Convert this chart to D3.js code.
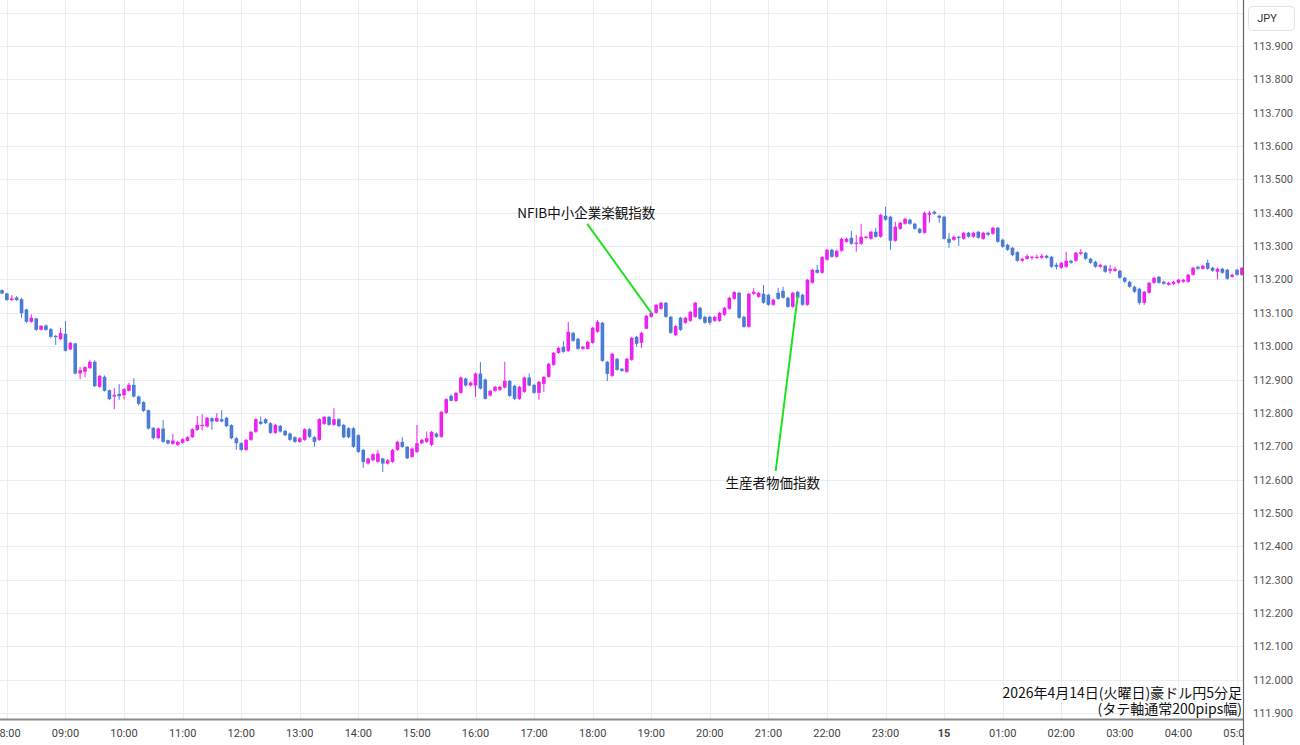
<!DOCTYPE html>
<html><head><meta charset="utf-8">
<script src="https://cdn.jsdelivr.net/npm/d3@7/dist/d3.min.js"></script>
<style>html,body{margin:0;padding:0;background:#fff;overflow:hidden}svg{display:block}</style>
</head><body><svg id="c" width="1300" height="745"></svg>
<script>
// ---- DATA ----
const startTime = "2026-04-14T07:55:00"; // first 5-minute candle
const intervalMin = 5;
const open = [113.168,113.158,113.138,113.146,113.141,113.110,113.073,113.083,113.049,113.062,113.051,113.031,113.021,113.037,112.990,113.008,112.918,112.923,112.934,112.953,112.878,112.908,112.868,112.849,112.857,112.853,112.866,112.884,112.849,112.832,112.808,112.755,112.724,112.753,112.718,112.707,112.704,112.710,112.716,112.727,112.749,112.761,112.759,112.784,112.774,112.781,112.785,112.763,112.724,112.709,112.689,112.719,112.743,112.774,112.781,112.769,112.740,112.761,112.746,112.738,112.727,112.713,112.719,112.751,112.727,112.719,112.767,112.788,112.764,112.781,112.764,112.754,112.754,112.733,112.689,112.648,112.658,112.653,112.663,112.648,112.653,112.689,112.713,112.698,112.668,112.683,112.709,112.713,112.704,112.738,112.728,112.800,112.851,112.836,112.860,112.903,112.882,112.882,112.918,112.900,112.852,112.866,112.869,112.876,112.896,112.881,112.842,112.863,112.906,112.884,112.860,112.887,112.908,112.944,112.980,112.998,112.986,113.040,113.022,112.992,112.992,113.010,113.043,113.070,112.953,112.911,112.962,112.932,112.923,112.959,113.028,113.010,113.052,113.088,113.100,113.112,113.130,113.088,113.033,113.085,113.070,113.076,113.088,113.115,113.088,113.088,113.076,113.076,113.094,113.112,113.142,113.160,113.088,113.058,113.157,113.148,113.157,113.154,113.124,113.160,113.166,113.145,113.118,113.163,113.154,113.124,113.190,113.229,113.220,113.259,113.289,113.268,113.286,113.313,113.325,113.307,113.307,113.325,113.322,113.343,113.328,113.391,113.388,113.316,113.352,113.367,113.379,113.367,113.352,113.340,113.394,113.403,113.391,113.388,113.322,113.319,113.328,113.322,113.340,113.328,113.343,113.322,113.340,113.337,113.355,113.319,113.304,113.295,113.282,113.256,113.262,113.265,113.265,113.265,113.271,113.268,113.244,113.235,113.238,113.256,113.256,113.277,113.280,113.262,113.253,113.238,113.241,113.226,113.226,113.226,113.205,113.193,113.178,113.172,113.130,113.160,113.190,113.208,113.193,113.184,113.187,113.190,113.193,113.193,113.214,113.238,113.232,113.250,113.235,113.223,113.232,113.229,113.208,113.229,113.214];
const high = [113.170,113.160,113.153,113.150,113.145,113.112,113.095,113.085,113.063,113.065,113.054,113.033,113.055,113.075,113.013,113.010,112.938,112.940,112.958,112.958,112.913,112.912,112.870,112.874,112.886,112.874,112.890,112.904,112.852,112.835,112.810,112.757,112.756,112.778,112.720,112.737,112.716,112.724,112.730,112.754,112.791,112.796,112.788,112.787,112.799,112.808,112.788,112.766,112.727,112.712,112.722,112.746,112.784,112.789,112.784,112.772,112.767,112.764,112.749,112.741,112.730,112.727,112.754,112.754,112.730,112.784,112.791,112.791,112.814,112.784,112.767,112.757,112.757,112.736,112.692,112.666,112.679,112.688,112.666,112.661,112.692,112.716,112.727,112.701,112.696,112.764,112.722,112.744,112.746,112.741,112.806,112.844,112.856,112.863,112.909,112.906,112.894,112.921,112.952,112.903,112.869,112.881,112.881,112.953,112.899,112.884,112.881,112.909,112.918,112.887,112.896,112.911,112.950,112.983,112.998,113.015,113.073,113.043,113.025,113.001,113.016,113.058,113.078,113.073,112.956,112.980,112.965,112.935,112.965,113.028,113.031,113.043,113.094,113.103,113.127,113.133,113.133,113.091,113.063,113.088,113.088,113.106,113.133,113.118,113.091,113.091,113.091,113.103,113.118,113.148,113.165,113.163,113.091,113.160,113.174,113.163,113.184,113.157,113.142,113.175,113.178,113.148,113.163,113.166,113.157,113.202,113.232,113.244,113.270,113.292,113.292,113.289,113.325,113.325,113.345,113.334,113.367,113.331,113.346,113.355,113.397,113.418,113.391,113.373,113.373,113.385,113.382,113.370,113.355,113.403,113.406,113.406,113.394,113.391,113.340,113.331,113.331,113.343,113.343,113.343,113.346,113.343,113.343,113.358,113.358,113.322,113.307,113.298,113.285,113.265,113.276,113.271,113.274,113.277,113.274,113.271,113.250,113.253,113.283,113.259,113.283,113.291,113.283,113.265,113.256,113.247,113.244,113.244,113.238,113.229,113.208,113.196,113.181,113.175,113.166,113.193,113.208,113.211,113.196,113.193,113.196,113.202,113.202,113.217,113.238,113.241,113.244,113.259,113.238,113.235,113.235,113.232,113.217,113.232,113.238];
const low = [113.156,113.136,113.136,113.136,113.085,113.070,113.070,113.046,113.047,113.046,113.025,113.004,113.018,112.984,112.988,112.915,112.901,112.907,112.932,112.878,112.875,112.864,112.838,112.811,112.839,112.840,112.864,112.846,112.822,112.803,112.750,112.720,112.721,112.710,112.705,112.704,112.700,112.708,112.714,112.725,112.746,112.747,112.756,112.749,112.772,112.772,112.757,112.721,112.689,112.686,112.686,112.716,112.740,112.764,112.766,112.737,112.737,112.741,112.730,112.716,112.710,112.710,112.716,112.725,112.698,112.716,112.764,112.761,112.761,112.757,112.724,112.724,112.695,112.680,112.635,112.645,112.655,112.650,112.623,112.645,112.650,112.686,112.695,112.661,112.665,112.680,112.706,112.710,112.700,112.725,112.725,112.797,112.835,112.833,112.857,112.879,112.879,112.848,112.870,112.840,112.849,112.863,112.866,112.873,112.848,112.839,112.839,112.860,112.879,112.857,112.839,112.863,112.905,112.941,112.977,112.980,112.983,113.013,112.989,112.989,112.989,113.007,113.040,112.953,112.895,112.908,112.926,112.923,112.920,112.956,112.998,112.995,113.052,113.085,113.097,113.109,113.085,113.037,113.030,113.046,113.067,113.073,113.085,113.079,113.067,113.064,113.073,113.073,113.091,113.109,113.139,113.082,113.055,113.055,113.154,113.145,113.127,113.121,113.121,113.139,113.142,113.115,113.115,113.142,113.121,113.121,113.187,113.217,113.217,113.256,113.265,113.265,113.283,113.310,113.304,113.283,113.304,113.322,113.319,113.325,113.325,113.376,113.289,113.313,113.349,113.364,113.364,113.349,113.337,113.337,113.370,113.394,113.370,113.319,113.295,113.316,113.301,113.319,113.325,113.325,113.322,113.319,113.331,113.334,113.310,113.295,113.286,113.270,113.253,113.253,113.259,113.259,113.262,113.262,113.262,113.235,113.230,113.232,113.235,113.247,113.253,113.274,113.259,113.247,113.235,113.235,113.220,113.217,113.223,113.202,113.190,113.175,113.160,113.124,113.124,113.157,113.187,113.187,113.184,113.181,113.184,113.187,113.190,113.190,113.211,113.229,113.229,113.229,113.223,113.200,113.217,113.199,113.205,113.211,113.211];
const close = [113.158,113.138,113.143,113.138,113.099,113.073,113.085,113.049,113.061,113.049,113.028,113.027,113.039,112.986,113.010,112.918,112.928,112.937,112.953,112.880,112.911,112.866,112.841,112.854,112.850,112.871,112.884,112.849,112.827,112.806,112.753,112.724,112.753,112.713,112.708,112.717,112.713,112.721,112.727,112.751,112.764,112.764,112.785,112.774,112.785,112.774,112.760,112.724,112.709,112.689,112.719,112.743,112.781,112.767,112.769,112.740,112.764,112.744,112.733,112.719,112.713,112.724,112.751,112.728,112.713,112.781,112.788,112.764,112.781,112.760,112.727,112.727,112.698,112.683,112.653,112.663,112.676,112.678,112.648,112.658,112.689,112.713,112.698,112.664,112.693,112.709,112.719,112.724,112.743,112.728,112.803,112.841,112.836,112.860,112.906,112.882,112.891,112.918,112.873,112.842,112.866,112.878,112.878,112.896,112.851,112.842,112.878,112.906,112.882,112.860,112.893,112.908,112.947,112.980,112.995,112.983,113.043,113.016,112.992,112.998,113.013,113.055,113.073,112.956,112.917,112.977,112.929,112.926,112.962,113.025,113.007,113.040,113.091,113.100,113.124,113.130,113.088,113.040,113.060,113.049,113.085,113.103,113.130,113.082,113.070,113.070,113.088,113.100,113.115,113.145,113.162,113.085,113.058,113.157,113.163,113.160,113.130,113.124,113.139,113.142,113.145,113.118,113.160,113.145,113.124,113.199,113.229,113.220,113.267,113.289,113.268,113.286,113.322,113.322,113.307,113.310,113.328,113.328,113.343,113.328,113.394,113.379,113.316,113.358,113.370,113.382,113.367,113.352,113.340,113.400,113.400,113.397,113.385,113.322,113.310,113.328,113.325,113.340,113.328,113.340,113.325,113.340,113.334,113.355,113.313,113.298,113.289,113.273,113.256,113.262,113.270,113.268,113.268,113.271,113.265,113.238,113.238,113.250,113.256,113.250,113.280,113.282,113.262,113.250,113.238,113.244,113.223,113.232,113.232,113.205,113.193,113.178,113.163,113.130,113.163,113.190,113.205,113.190,113.187,113.190,113.193,113.199,113.199,113.214,113.235,113.232,113.241,113.232,113.226,113.232,113.220,113.202,113.214,113.214,113.235];
const priceTicks = [111.9,112.0,112.1,112.2,112.3,112.4,112.5,112.6,112.7,112.8,112.9,113.0,113.1,113.2,113.3,113.4,113.5,113.6,113.7,113.8,113.9];
const gridTop = 114.0;
const events = [
  {label: "NFIB中小企業楽観指数", time: "2026-04-14T19:00:00", price: 113.100},
  {label: "生産者物価指数", time: "2026-04-14T21:30:00", price: 113.150}
];
const axisStart = "2026-04-14T08:00:00", axisEnd = "2026-04-15T05:00:00";
const currency = "JPY";
const caption = ["2026年4月14日(火曜日)豪ドル円5分足", "(タテ軸通常200pips幅)"];

// ---- LAYOUT ----
const W = 1300, H = 745, plotR = 1243, plotB = 719;
const UP = "#ee22ee", DOWN = "#4a7cd6", GRID = "#e6edf3";
const svg = d3.select("#c");
const parse = d3.isoParse;
const x = d3.scaleTime().domain([parse(axisStart), parse(axisEnd)]).range([6.9, 1237]);
const y = d3.scaleLinear().domain([111.9, 113.9]).range([713, 46]);

const t0 = parse(startTime);
const candles = close.map((c, i) => ({
  t: new Date(t0.getTime() + i * intervalMin * 60000),
  o: open[i], h: high[i], l: low[i], c
}));

const defs = svg.append("defs");
defs.append("clipPath").attr("id", "plot")
  .append("rect").attr("x", 0).attr("y", 0).attr("width", plotR).attr("height", plotB);
defs.append("clipPath").attr("id", "xlab")
  .append("rect").attr("x", 0).attr("y", plotB).attr("width", plotR).attr("height", H - plotB);

const grid = svg.append("g").attr("clip-path", "url(#plot)");
const hourTicks = x.ticks(d3.timeHour.every(1));
grid.selectAll("line.v").data(hourTicks).join("line")
  .attr("x1", d => Math.round(x(d)) + 0.5).attr("x2", d => Math.round(x(d)) + 0.5)
  .attr("y1", 0).attr("y2", plotB).attr("stroke", GRID).attr("stroke-width", 1);
grid.selectAll("line.h").data(priceTicks.concat([gridTop])).join("line")
  .attr("x1", 0).attr("x2", plotR)
  .attr("y1", d => Math.round(y(d)) + 0.5).attr("y2", d => Math.round(y(d)) + 0.5)
  .attr("stroke", GRID).attr("stroke-width", 1);

// candles
const cg = svg.append("g").attr("clip-path", "url(#plot)");
const bw = 3.6;
const cs = cg.selectAll("g.c").data(candles).join("g");
cs.append("line")
  .attr("x1", d => x(d.t)).attr("x2", d => x(d.t))
  .attr("y1", d => y(d.h)).attr("y2", d => y(d.l))
  .attr("stroke", d => d.c >= d.o ? UP : DOWN).attr("stroke-width", 1);
cs.append("rect")
  .attr("x", d => x(d.t) - bw / 2).attr("width", bw)
  .attr("y", d => y(Math.max(d.o, d.c)))
  .attr("height", d => Math.max(1.2, Math.abs(y(d.o) - y(d.c))))
  .attr("fill", d => d.c >= d.o ? UP : DOWN);

// annotations
const offsets = [{lx: -64, ly: -89, tx: -65, ty: -95}, {lx: -22, ly: 175, tx: -25, ty: 192}];
const ag = svg.append("g");
events.forEach((e, i) => {
  const ax = x(parse(e.time)), ay = y(e.price), o = offsets[i];
  ag.append("line").attr("x1", ax + o.lx).attr("y1", ay + o.ly).attr("x2", ax).attr("y2", ay)
    .attr("stroke", "#22e022").attr("stroke-width", 2);
  ag.append("text").attr("x", ax + o.tx).attr("y", ay + o.ty)
    .attr("text-anchor", "middle")
    .attr("font-family", "'Noto Sans CJK JP', 'Noto Sans', sans-serif")
    .attr("font-size", 13.5).attr("fill", "#111").text(e.label);
});

// caption
caption.forEach((s, i) => {
  svg.append("text").attr("x", 1242).attr("y", 698 + i * 16)
    .attr("text-anchor", "end")
    .attr("font-family", "'Noto Sans CJK JP', sans-serif")
    .attr("font-size", 14).attr("fill", "#111").text(s);
});

// axes lines
svg.append("line").attr("x1", 0).attr("x2", plotR).attr("y1", plotB + 0.5).attr("y2", plotB + 0.5)
  .attr("stroke", "#8a8a8a").attr("stroke-width", 2);
svg.append("line").attr("x1", plotR + 0.5).attr("x2", plotR + 0.5).attr("y1", 0).attr("y2", H)
  .attr("stroke", "#666").attr("stroke-width", 1.2);

// x tick labels (clipped at the price axis, as in the reference)
const fmt = d3.timeFormat("%H:00");
svg.append("g").attr("clip-path", "url(#xlab)").selectAll("text").data(hourTicks).join("text")
  .attr("x", d => x(d)).attr("y", 737)
  .attr("text-anchor", "middle")
  .attr("font-family", "Roboto, 'Open Sans', sans-serif")
  .attr("font-size", 11)
  .attr("font-weight", d => d.getHours() === 0 ? "bold" : "normal")
  .attr("fill", "#444")
  .text(d => d.getHours() === 0 ? d3.timeFormat("%-d")(d) : fmt(d));

// price labels
svg.append("g").selectAll("text").data(priceTicks).join("text")
  .attr("x", 1253).attr("y", d => y(d) + 4)
  .attr("font-family", "Roboto, 'Open Sans', sans-serif")
  .attr("font-size", 11).attr("fill", "#555")
  .text(d => d3.format(".3f")(d));

// currency box
svg.append("rect").attr("x", 1248.5).attr("y", 6.5).attr("width", 46).attr("height", 24).attr("rx", 4)
  .attr("fill", "#fff").attr("stroke", "#e2e2e2");
svg.append("text").attr("x", 1267).attr("y", 22).attr("text-anchor", "middle")
  .attr("font-family", "Roboto, 'Open Sans', sans-serif").attr("font-size", 11).attr("fill", "#333")
  .text(currency);
</script></body></html>
